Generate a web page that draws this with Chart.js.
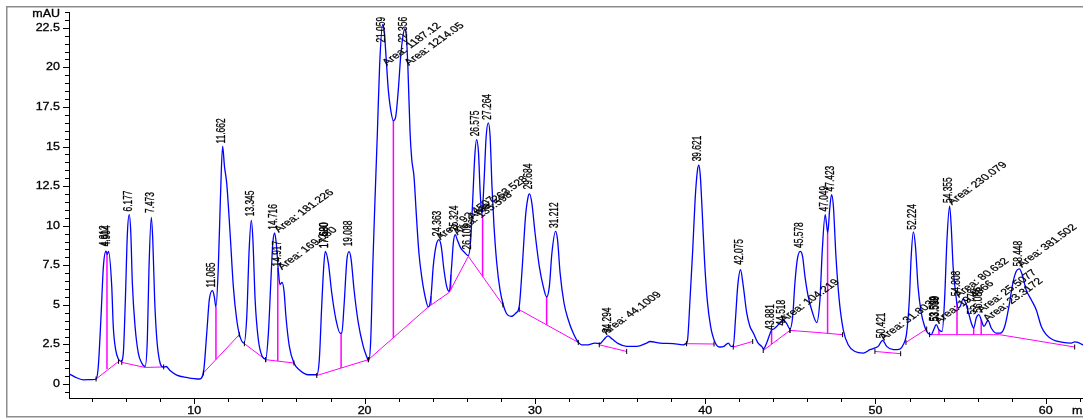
<!DOCTYPE html>
<html>
<head>
<meta charset="utf-8">
<title>Chromatogram</title>
<script src="https://cdn.jsdelivr.net/npm/chart.js@4.4.1/dist/chart.umd.min.js"></script>
<style>
  html, body { margin: 0; padding: 0; background: #fff; overflow: hidden; }
  #wrap { position: relative; width: 1083px; height: 419px; overflow: hidden; }
  #chart { position: absolute; left: 0; top: 0; }
</style>
</head>
<body>
<div id="wrap"><canvas id="chart" width="1100" height="419"></canvas></div>
<script>
// detector trace, [time (min), signal (mAU)]
const signal = [
  [2.64,0.65],[3.0,0.44],[3.48,0.27],[4.0,0.28],[4.23,0.32],[4.36,1.11],[4.52,4.27],[4.66,7.43],
  [4.812,8.39],[4.89,8.2],[4.96,8.38],[5.15,6.17],[5.24,3.64],[5.38,2.17],[5.54,1.58],[5.70,1.43],
  [5.83,1.96],[5.95,5.33],[6.07,9.54],[6.177,10.7],[6.27,9.54],[6.36,6.38],[6.52,3.64],[6.71,1.96],
  [6.91,1.33],[7.11,1.11],[7.24,2.8],[7.34,7.43],[7.473,10.53],[7.56,9.12],[7.67,5.33],[7.8,2.8],
  [7.99,1.33],[8.18,1.07],[8.34,1.11],[8.57,0.86],[8.97,0.57],[9.55,0.42],[10.29,0.32],[10.53,0.7],
  [10.73,3.22],[10.88,5.33],[11.065,5.9],[11.17,5.54],[11.27,4.87],[11.41,7.43],[11.53,11.65],[11.662,15.02],
  [11.77,13.75],[11.9,12.71],[12.1,9.54],[12.29,6.17],[12.49,4.06],[12.68,3.01],[12.92,2.59],[13.08,4.27],
  [13.22,8.49],[13.345,10.34],[13.44,9.12],[13.57,5.33],[13.76,2.8],[13.99,1.74],[14.19,1.58],[14.35,3.22],
  [14.49,6.38],[14.61,8.91],[14.716,9.54],[14.81,8.91],[14.93,7.22],[15.03,6.28],[15.15,6.42],[15.27,5.85],
  [15.38,4.27],[15.58,2.38],[15.85,1.33],[16.21,0.86],[16.69,0.59],[17.19,0.59],[17.34,1.54],[17.48,4.91],
  [17.6,7.43],[17.69,8.38],[17.87,7.65],[18.07,5.75],[18.32,4.06],[18.56,3.22],[18.66,3.22],[18.79,4.91],
  [18.96,7.86],[19.088,8.36],[19.21,7.86],[19.38,5.96],[19.63,3.86],[19.92,2.38],[20.12,1.74],[20.24,1.47],
  [20.36,2.8],[20.48,7.43],[20.61,11.65],[20.75,15.87],[20.88,20.08],[21.059,22.71],[21.16,22.19],[21.27,20.5],
  [21.39,18.6],[21.53,17.34],[21.69,16.64],[21.83,16.91],[21.98,18.6],[22.12,20.71],[22.25,21.97],[22.356,22.44],
  [22.45,21.97],[22.54,20.08],[22.67,15.87],[22.77,14.18],[22.9,13.12],[23.02,11.02],[23.08,9.96],[23.19,8.28],
  [23.35,6.8],[23.55,5.54],[23.74,4.87],[23.9,5.54],[24.03,7.43],[24.19,8.7],[24.363,9.12],[24.5,8.7],
  [24.66,7.22],[24.82,6.17],[24.97,5.85],[25.11,7.43],[25.21,8.91],[25.324,9.44],[25.44,9.12],[25.64,8.6],
  [25.9,8.28],[26.09,8.11],[26.23,9.12],[26.35,11.65],[26.47,14.39],[26.575,15.44],[26.69,14.6],[26.78,12.28],
  [26.89,10.7],[27.01,12.71],[27.14,15.65],[27.264,16.5],[27.37,15.65],[27.48,12.49],[27.6,9.96],[27.76,7.65],
  [27.95,5.96],[28.14,5.01],[28.34,4.44],[28.6,4.27],[28.89,4.49],[29.08,4.91],[29.26,7.43],[29.45,10.59],
  [29.59,11.76],[29.684,12.01],[29.82,11.44],[30.01,9.54],[30.26,7.43],[30.49,6.17],[30.69,5.5],[30.85,6.17],
  [31.0,8.28],[31.212,9.65],[31.33,9.12],[31.48,7.02],[31.71,5.12],[31.96,4.06],[32.25,3.22],[32.55,2.63],
  [32.75,2.48],[33.04,2.47],[33.53,2.59],[33.82,2.55],[34.04,2.8],[34.294,3.05],[34.54,2.84],[34.9,2.55],
  [35.39,2.38],[35.98,2.38],[36.56,2.59],[36.76,2.69],[37.35,2.59],[38.13,2.55],[38.71,2.48],[38.95,2.69],
  [39.11,5.33],[39.27,8.49],[39.41,11.65],[39.54,13.44],[39.621,13.82],[39.71,13.23],[39.82,11.02],[39.96,7.86],
  [40.12,5.33],[40.32,3.64],[40.58,2.63],[40.87,2.34],[41.1,2.38],[41.36,2.59],[41.52,2.38],[41.65,2.38],
  [41.79,4.27],[41.91,6.17],[42.075,7.22],[42.24,6.17],[42.44,4.49],[42.63,3.64],[42.83,3.22],[43.1,2.6],
  [43.32,2.38],[43.43,2.23],[43.61,2.59],[43.881,3.37],[44.05,3.5],[44.2,3.64],[44.39,3.86],[44.59,4.06],
  [44.79,3.81],[44.98,3.48],[45.14,4.27],[45.27,6.38],[45.41,7.86],[45.578,8.38],[45.72,8.07],[45.86,6.8],
  [46.05,5.54],[46.31,4.49],[46.55,3.89],[46.74,5.33],[46.88,8.49],[47.049,10.7],[47.12,10.18],[47.2,9.54],
  [47.31,11.02],[47.423,11.97],[47.53,11.23],[47.68,8.07],[47.87,5.33],[48.11,3.43],[48.4,2.48],[48.8,2.06],
  [49.28,1.96],[49.68,2.17],[49.97,2.28],[50.16,2.38],[50.421,2.76],[50.66,2.38],[51.05,2.17],[51.44,2.21],
  [51.63,2.48],[51.83,3.22],[51.99,5.33],[52.1,8.07],[52.224,9.61],[52.35,8.7],[52.5,6.17],[52.69,4.49],
  [52.89,3.64],[53.08,3.22],[53.28,3.12],[53.42,3.43],[53.57,3.75],[53.73,3.43],[53.92,3.32],[54.06,5.33],
  [54.2,9.12],[54.355,11.23],[54.45,9.96],[54.56,7.43],[54.71,5.75],[54.84,4.8],[54.98,4.91],[55.14,5.37],
  [55.3,5.12],[55.47,4.49],[55.63,3.86],[55.77,3.54],[55.92,4.17],[56.08,4.38],[56.21,4.06],[56.37,3.64],
  [56.61,4.02],[56.8,3.54],[57.09,3.22],[57.33,3.22],[57.59,3.64],[57.84,4.91],[58.07,6.38],[58.27,7.12],
  [58.448,7.27],[58.62,6.91],[58.85,5.96],[59.15,5.33],[59.44,4.7],[59.74,3.64],[60.03,3.12],[60.42,2.8],
  [61.01,2.63],[61.5,2.59],[61.7,2.66],[61.89,2.63],[62.19,2.48],[62.6,2.45]
];

// integration baselines, one polyline per run
const baselines = [
  [[4.23,0.32],[5.55,1.43]],
  [[5.74,1.37],[7.11,1.05],[8.2,1.08]],
  [[10.53,0.70],[12.64,3.12]],
  [[12.94,2.55],[14.19,1.54]],
  [[14.19,1.54],[15.85,1.33]],
  [[17.19,0.54],[20.22,1.54]],
  [[20.22,1.54],[23.74,4.87],[24.97,5.79],[26.09,8.07],[28.12,5.0]],
  [[29.08,4.70],[32.55,2.63]],
  [[33.78,2.48],[35.39,2.06]],
  [[38.91,2.55],[40.52,2.53]],
  [[41.65,2.34],[42.79,2.69]],
  [[43.41,2.12],[44.98,3.39]],
  [[44.98,3.39],[46.58,3.26],[48.07,3.12]],
  [[49.97,2.06],[51.48,1.92]],
  [[51.79,2.63],[53.01,3.48]],
  [[53.18,3.12],[57.29,3.12],[61.70,2.34]]
];

// peak split lines: [time, from, to]
const dropLines = [
  [4.87,0.95,8.22],[11.27,1.55,4.87],[14.90,1.45,7.33],[18.62,1.01,3.22],
  [21.69,2.93,16.64],[23.90,4.99,5.54],[25.06,5.95,6.9],[26.93,6.80,10.70],
  [30.69,3.74,5.50],[43.90,2.52,3.37],[47.19,3.20,9.54],
  [53.73,3.12,3.43],[54.79,3.12,5.2],[55.77,3.12,3.54],[56.21,3.12,4.06]
];

const xTickLabels = [10, 20, 30, 40, 50, 60];
const yTickLabels = [0, 2.5, 5, 7.5, 10, 12.5, 15, 17.5, 20, 22.5];

// retention time labels and the level where each one starts
const peakLabels = ['4.812','4.904','6.177','7.473','11.065','11.662','13.345','14.716','14.917',
  '17.680','17.690','19.088','21.059','22.356','24.363','25.324','26.109','26.575','27.264','29.684','31.212',
  '34.294','39.621','42.075','43.881','44.518','45.578','47.049','47.423','50.421','52.224',
  '53.539','53.599','54.355','54.808','55.776','56.086','58.448'];
const peakLabelLevels = [8.7,8.7,10.9,10.8,6.1,15.2,10.6,9.75,7.43,
  8.6,8.6,8.7,21.57,21.57,9.33,9.65,8.5,15.65,16.7,12.3,9.86,
  3.22,14.07,7.54,3.43,3.7,8.6,10.9,12.17,2.9,9.75,
  3.96,3.96,11.44,5.54,4.4,4.5,7.43];

// area annotations
const areaLabels = ['Area: 181.226','Area: 169.080','Area: 1187.12','Area: 1214.05',
  'Area: 92.4507','Area: 135.598','Area: 263.528','Area: 44.1009','Area: 104.219',
  'Area: 31.8033','Area: 19.4866','Area: 230.079','Area: 80.632','Area: 25.5077','Area: 23.3172','Area: 381.502'];
const areaTimes = [14.96,15.15,21.31,22.61,24.45,25.45,26.35,34.2,44.65,50.5,53.73,54.5,54.9,56.25,56.6,58.6];
const areaLevels = [9.55,7.2,20.1,20.1,9.1,9.4,10.4,3.1,3.9,2.75,3.8,11.3,5.45,4.5,3.95,7.35];

const FONT = '"Liberation Sans", Arial, sans-serif';

// text squeezed vertically, then turned by angle
function squishText(ctx, text, x, y, angle, k, align, base){
  ctx.save();
  ctx.translate(x, y);
  ctx.scale(1, k);
  ctx.rotate(angle);
  ctx.textAlign = align;
  ctx.textBaseline = base;
  ctx.fillText(text, 0, 0);
  ctx.strokeText(text, 0, 0);
  ctx.restore();
}

const isMultiple = (v, step) => Math.abs(v / step - Math.round(v / step)) < 1e-6;

const decorations = {
  id: 'decorations',
  afterDraw(chart){
    const {ctx, chartArea: area} = chart;
    const xs = chart.scales.x, ys = chart.scales.y;

    // outer frame
    ctx.save();
    ctx.strokeStyle = '#8c8c8c';
    ctx.lineWidth = 1.5;
    ctx.strokeRect(6.75, 6.75, 1200, 410);

    // tick marks
    ctx.strokeStyle = '#000';
    ctx.lineWidth = 1;
    ctx.beginPath();
    ys.ticks.forEach(t => {
      const y = Math.round(ys.getPixelForValue(t.value)) + 0.5;
      const len = isMultiple(t.value, 2.5) ? 6 : 4;
      ctx.moveTo(area.left - len, y); ctx.lineTo(area.left, y);
    });
    xs.ticks.forEach(t => {
      const x = Math.round(xs.getPixelForValue(t.value)) + 0.5;
      const len = isMultiple(t.value, 10) ? 6 : 4;
      ctx.moveTo(x, area.bottom); ctx.lineTo(x, area.bottom + len);
    });
    ctx.stroke();

    // tick labels and units
    ctx.fillStyle = '#000';
    ctx.strokeStyle = '#000';
    ctx.lineWidth = 0.35;
    ctx.font = '12.5px ' + FONT;
    yTickLabels.forEach(v => {
      squishText(ctx, String(v), area.left - 9, ys.getPixelForValue(v), 0, 0.85, 'right', 'middle');
    });
    xTickLabels.forEach(v => {
      squishText(ctx, String(v), xs.getPixelForValue(v), area.bottom + 13, 0, 0.85, 'center', 'middle');
    });
    squishText(ctx, 'mAU', area.left - 9, 14, 0, 0.85, 'right', 'middle');
    squishText(ctx, 'min', area.right - 18, area.bottom + 13, 0, 0.85, 'left', 'middle');

    // peak annotations
    ctx.lineWidth = 0.3;
    peakLabels.forEach((lab, i) => {
      const x = xs.getPixelForValue(Number(lab)) + 2.5;
      const y = ys.getPixelForValue(peakLabelLevels[i]);
      squishText(ctx, lab, x, y, -Math.PI / 2, 0.67, 'left', 'alphabetic');
    });
    areaLabels.forEach((lab, i) => {
      const x = xs.getPixelForValue(areaTimes[i]);
      const y = ys.getPixelForValue(areaLevels[i]);
      squishText(ctx, lab, x, y, -Math.PI / 4, 0.72, 'left', 'alphabetic');
    });
    ctx.restore();
  }
};

const pts = arr => arr.map(([x, y]) => ({x, y}));

const baselinePts = [];
baselines.forEach(seg => {
  baselinePts.push(...pts(seg));
  baselinePts.push({x: seg[seg.length - 1][0], y: null});
});

const dropPts = [];
dropLines.forEach(([t, a, b]) => {
  dropPts.push({x: t, y: a}, {x: t, y: b}, {x: t, y: null});
});

const markerPts = baselines.flatMap(seg => pts([seg[0], seg[seg.length - 1]]));

new Chart(document.getElementById('chart'), {
  type: 'line',
  data: {
    datasets: [
      {
        label: 'markers',
        data: markerPts,
        showLine: false,
        pointStyle: 'line',
        rotation: 90,
        pointRadius: 2.5,
        pointBorderColor: '#000',
        pointBorderWidth: 1
      },
      {
        label: 'signal',
        data: pts(signal),
        borderColor: '#0000ff',
        borderWidth: 1.3,
        pointRadius: 0,
        cubicInterpolationMode: 'monotone'
      },
      {
        label: 'drops',
        data: dropPts,
        borderColor: '#ff00ff',
        borderWidth: 1.5,
        pointRadius: 0,
        spanGaps: false,
        tension: 0
      },
      {
        label: 'baseline',
        data: baselinePts,
        borderColor: '#ff00ff',
        borderWidth: 1,
        pointRadius: 0,
        spanGaps: false,
        tension: 0
      }
    ]
  },
  options: {
    responsive: false,
    animation: false,
    devicePixelRatio: 1,
    layout: { padding: { left: 0, top: 12, right: 10, bottom: 0 } },
    plugins: { legend: { display: false }, tooltip: { enabled: false } },
    scales: {
      x: {
        type: 'linear',
        min: 2.64,
        max: 62.6,
        grid: { display: false },
        border: { display: true, color: '#000', width: 1 },
        ticks: { display: false, stepSize: 2, includeBounds: false, autoSkip: false },
        afterFit: s => { s.height = 21; }
      },
      y: {
        min: -0.88,
        max: 23.5,
        grid: { display: false },
        border: { display: true, color: '#000', width: 1 },
        ticks: { display: false, stepSize: 0.5, includeBounds: false, autoSkip: false },
        afterFit: s => { s.width = 69; }
      }
    }
  },
  plugins: [decorations]
});
</script>
</body>
</html>
